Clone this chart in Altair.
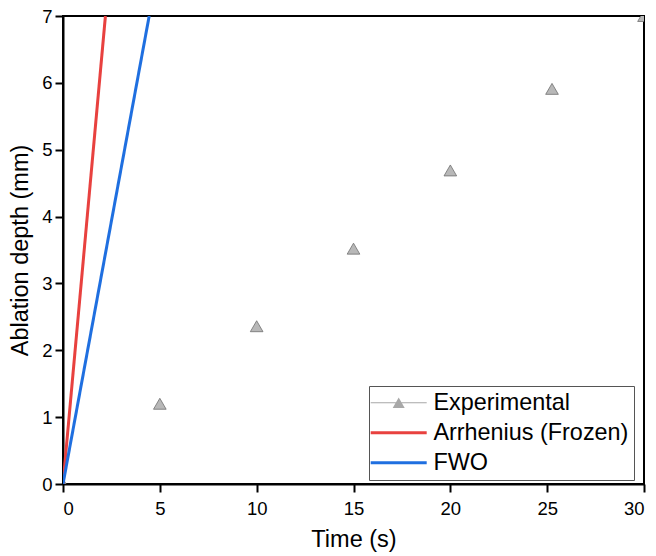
import altair as alt
import pandas as pd

# Experimental data
exp_time = [0, 5, 10, 15, 20, 25.25, 30]
exp_depth = [0, 1.2, 2.36, 3.52, 4.69, 5.91, 7.0]

# Model lines
arr_time = [0, 2.19]
arr_depth = [0, 7.0]
fwo_time = [0, 4.45]
fwo_depth = [0, 7.0]

series_names = ["Experimental", "Arrhenius (Frozen)", "FWO"]
series_colors = ["#a8a8a8", "#e8413f", "#1f6fe0"]

exp_df = pd.DataFrame({"t": exp_time, "d": exp_depth, "series": "Experimental"})
model_df = pd.concat([
    pd.DataFrame({"t": arr_time, "d": arr_depth, "series": "Arrhenius (Frozen)"}),
    pd.DataFrame({"t": fwo_time, "d": fwo_depth, "series": "FWO"}),
])
all_df = pd.concat([exp_df, model_df])

xscale = alt.Scale(domain=[0, 30], nice=False, zero=False)
yscale = alt.Scale(domain=[0, 7], nice=False, zero=False)

xaxis = alt.Axis(values=[0, 5, 10, 15, 20, 25, 30], format="d", title="Time (s)", grid=False)
yaxis = alt.Axis(values=[0, 1, 2, 3, 4, 5, 6, 7], format="d", title="Ablation depth (mm)", grid=False)

# legend symbol shapes (unit = sqrt(symbolSize)/2 px)
exp_symbol = "M-2.8,-0.05H2.8V0.05H-2.8ZM0,-0.52L0.6,0.52L-0.6,0.52Z"
line_symbol = "M-2.8,-0.15H2.8V0.15H-2.8Z"

color_scale = alt.Scale(domain=series_names, range=series_colors)
shape_scale = alt.Scale(domain=series_names, range=[exp_symbol, line_symbol, line_symbol])

legend = alt.Legend(
    orient="none",
    legendX=306,
    legendY=370,
    symbolSize=400,
    symbolOffset=13,
    labelOffset=23,
    rowPadding=5,
    padding=5,
    strokeColor="#555555",
    fillColor="white",
    symbolOpacity=1,
    symbolStrokeWidth=0,
    labelFontSize=23.4,
    labelLimit=0,
    labelFont="Liberation Sans",
    labelColor="black",
    title=None,
)

legend_layer = alt.Chart(all_df).mark_point(filled=True, opacity=0, clip=True).encode(
    x=alt.X("t:Q", scale=xscale, axis=xaxis),
    y=alt.Y("d:Q", scale=yscale, axis=yaxis),
    color=alt.Color("series:N", scale=color_scale, legend=legend),
    shape=alt.Shape("series:N", scale=shape_scale, legend=legend),
)

lines = alt.Chart(model_df).mark_line(strokeWidth=3, clip=True).encode(
    x=alt.X("t:Q", scale=xscale),
    y=alt.Y("d:Q", scale=yscale),
    color=alt.Color("series:N", scale=color_scale, legend=legend),
)

points = alt.Chart(exp_df).mark_point(
    shape="triangle-up", filled=True, fill="#b8b8b8", stroke="#6e6e6e",
    strokeWidth=0.8, size=160, opacity=1, clip=True
).encode(
    x=alt.X("t:Q", scale=xscale),
    y=alt.Y("d:Q", scale=yscale),
)

chart = alt.layer(legend_layer, points, lines).properties(
    width=581, height=468,
    autosize=alt.AutoSizeParams(type="none"),
    padding={"left": 63, "top": 16, "right": 12, "bottom": 72},
).configure_view(
    stroke="black", strokeWidth=2
).configure_axis(
    domainColor="black", domainWidth=2,
    tickColor="black", tickWidth=2, tickSize=8,
    labelFont="Liberation Sans", labelFontSize=18.5, labelColor="black",
    titleFont="Liberation Sans", titleFontSize=23.5, titleFontWeight="normal", titleColor="black",
).configure_axisX(
    labelPadding=7, titlePadding=10,
).configure_axisY(
    labelPadding=3, titlePadding=9,
)

chart.save("out.html", embed_options={"renderer": "svg", "actions": False})
